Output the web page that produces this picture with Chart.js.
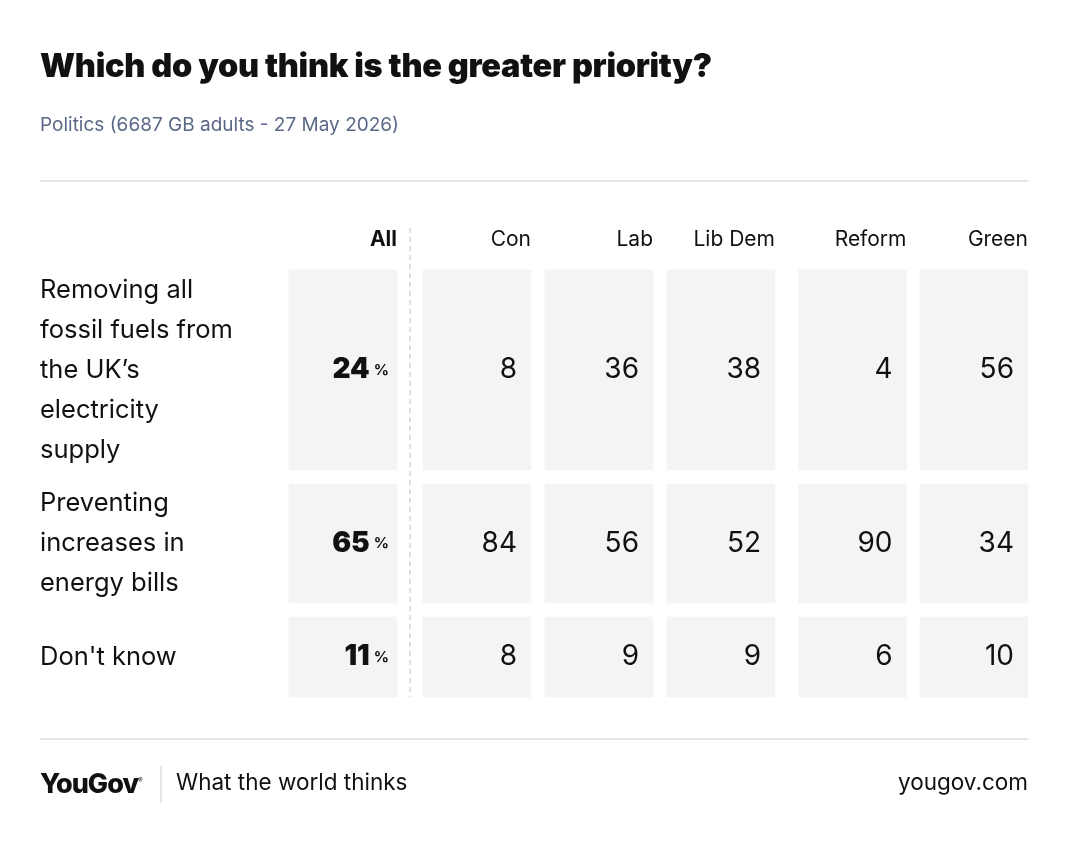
<!DOCTYPE html>
<html><head><meta charset="utf-8">
<script src="https://cdn.jsdelivr.net/npm/chart.js@4/dist/chart.umd.min.js"></script>
<style>
html,body{margin:0;padding:0;background:#fff;width:1068px;height:846px;overflow:hidden;font-family:Inter,"Noto Sans",sans-serif;color:#111}
#wrap{position:absolute;left:0;top:0;width:1068px;height:846px}
.t{position:absolute;white-space:nowrap}
</style></head><body>
<div id="wrap"><canvas id="c" width="1068" height="846"></canvas></div>
<div class="t" style="left:40px;top:46px;font-size:32.5px;font-weight:900;letter-spacing:-0.3px">Which do you think is the greater priority?</div>
<div class="t" style="left:40px;top:113px;font-size:19px;color:#5b6887">Politics (6687 GB adults - 27 May 2026)</div>
<div class="t" style="left:40px;top:767px;font-size:27px;font-weight:800;letter-spacing:-1px">YouGov<sup style="font-size:7px;font-weight:400">®</sup></div>
<div class="t" style="left:176px;top:768px;font-size:22.5px">What the world thinks</div>
<div class="t" style="right:40px;top:768px;font-size:22.5px">yougov.com</div>
<script>
const columns = ["All","Con","Lab","Lib Dem","Reform","Green"];
const rowLabels = [["Removing all","fossil fuels from","the UK’s","electricity","supply"],["Preventing","increases in","energy bills"],["Don't know"]];
const allValues = [24,65,11];
const conValues = [8,84,8];
const labValues = [36,56,9];
const libDemValues = [38,52,9];
const reformValues = [4,90,6];
const greenValues = [56,34,10];
const seriesValues = [allValues,conValues,labValues,libDemValues,reformValues,greenValues];

// layout (pixel units of the page)
const colCenters = [343,477,599,721,852.5,974];
const colWidths = [108,108,108,108,108,108];
const rowSpans = [[270,470],[484,603],[617,697]];

const datasets = columns.map((c,ci)=>({
  label:c,
  data: seriesValues[ci].map((v,ri)=>({x:colCenters[ci], y:rowSpans[ri], v:v})),
  backgroundColor:'#f3f4f6',
  borderWidth:0,
  barThickness:colWidths[ci],
  grouped:false
}));

const deco = {
  id:'deco',
  afterDraw(chart){
    const ctx=chart.ctx, xs=chart.scales.x, ys=chart.scales.y;
    const X=v=>xs.getPixelForValue(v), Y=v=>ys.getPixelForValue(v);
    ctx.save();
    ctx.strokeStyle='#dcdde0';ctx.lineWidth=1.5;
    [181,739].forEach(y=>{ctx.beginPath();ctx.moveTo(X(40),Y(y));ctx.lineTo(X(1028),Y(y));ctx.stroke();});
    ctx.beginPath();ctx.moveTo(X(161),Y(766));ctx.lineTo(X(161),Y(803));ctx.stroke();
    ctx.setLineDash([5,4]);ctx.strokeStyle='#d4d6db';
    ctx.beginPath();ctx.moveTo(X(410),Y(228));ctx.lineTo(X(410),Y(697));ctx.stroke();
    ctx.setLineDash([]);
    ctx.fillStyle='#111';ctx.textAlign='right';ctx.textBaseline='middle';
    columns.forEach((c,ci)=>{
      ctx.font=(ci===0?'700 ':'400 ')+'21px Inter, "Noto Sans", sans-serif';
      ctx.fillText(c,X(colCenters[ci]+colWidths[ci]/2),Y(240));
    });
    ctx.textAlign='left';ctx.font='400 25.5px Inter, "Noto Sans", sans-serif';
    rowLabels.forEach((lines,ri)=>{
      const mid=(rowSpans[ri][0]+rowSpans[ri][1])/2;
      const n=lines.length;
      lines.forEach((l,li)=>ctx.fillText(l,X(40),Y(mid+(li-(n-1)/2)*40)));
    });
    chart.data.datasets.forEach((ds,di)=>{
      const meta=chart.getDatasetMeta(di);
      meta.data.forEach((bar,i)=>{
        const v=ds.data[i].v;
        const right=bar.x+bar.width/2;
        const mid=(bar.y+bar.base)/2;
        ctx.textAlign='right';
        if(di===0){
          ctx.font='700 15px Inter, "Noto Sans", sans-serif';
          ctx.fillText('%',right-8,mid);
          const w=ctx.measureText('%').width;
          ctx.font='900 28px Inter, "Noto Sans", sans-serif';
          ctx.fillText(String(v),right-12-w,mid);
        } else {
          ctx.font='400 28px Inter, "Noto Sans", sans-serif';
          ctx.fillText(String(v),right-14,mid);
        }
      });
    });
    ctx.restore();
  }
};

new Chart(document.getElementById('c'),{
  type:'bar',
  data:{datasets},
  options:{
    responsive:false,animation:false,
    layout:{padding:0},
    parsing:{xAxisKey:'x',yAxisKey:'y'},
    plugins:{legend:{display:false},tooltip:{enabled:false}},
    scales:{
      x:{type:'linear',min:0,max:1068,display:false,offset:false,grace:0},
      y:{type:'linear',min:0,max:846,reverse:true,display:false,offset:false,grace:0}
    }
  },
  plugins:[deco]
});
</script>
</body></html>
